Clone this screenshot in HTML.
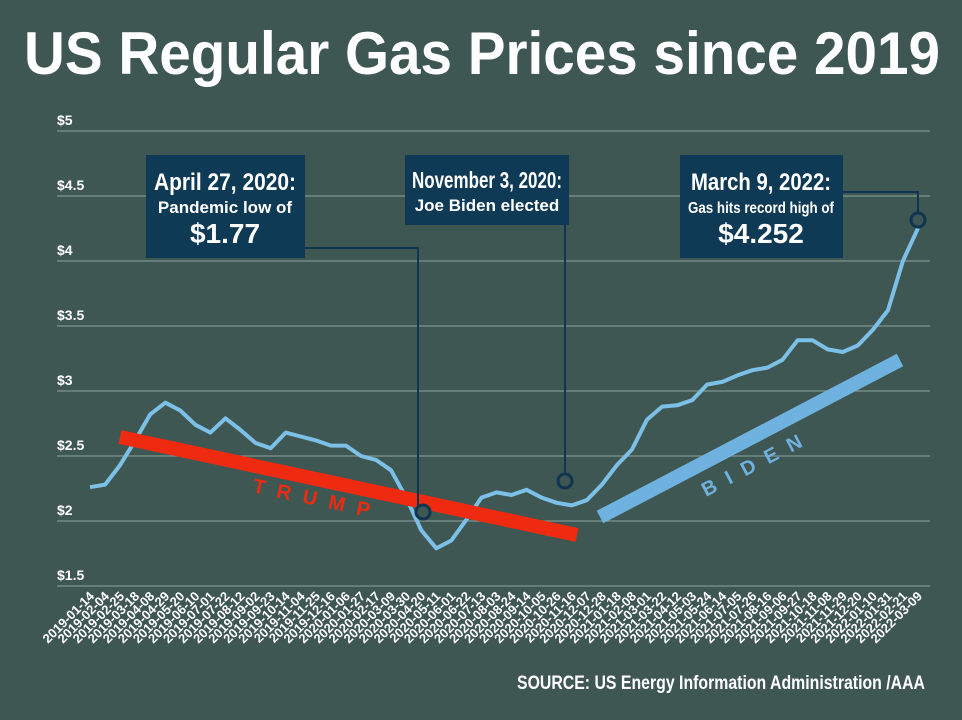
<!DOCTYPE html>
<html><head><meta charset="utf-8"><style>
html,body{margin:0;padding:0;background:#3f5752;}
svg{display:block;}
</style></head><body>
<svg id="chart" width="962" height="720" viewBox="0 0 962 720" xmlns="http://www.w3.org/2000/svg" font-family="Liberation Sans Narrow, Liberation Sans, sans-serif">
<rect width="962" height="720" fill="#3f5752"/>
<text x="24" y="74" font-size="60" font-weight="bold" fill="#fff" textLength="916" lengthAdjust="spacingAndGlyphs">US Regular Gas Prices since 2019</text>
<g id="grid"></g>
<g id="xlabels"></g>
<path id="series" fill="none" stroke="#7cc0e8" stroke-width="4" stroke-linejoin="round"/>
<line x1="120" y1="437" x2="577" y2="535" stroke="#ee2a10" stroke-width="14"/>
<text x="0" y="0" font-family="Liberation Sans, sans-serif" font-weight="bold" font-size="20" fill="#ee2a10" letter-spacing="12" transform="translate(252,492) rotate(12.1)">TRUMP</text>
<line x1="600" y1="517" x2="900" y2="360" stroke="#6fb2e0" stroke-width="14"/>
<text x="0" y="0" font-family="Liberation Sans, sans-serif" font-weight="bold" font-size="20" fill="#6fb2e0" letter-spacing="12" transform="translate(706,497) rotate(-27.6)">BIDEN</text>
<g fill="none" stroke="#0f3550" stroke-width="2">
<polyline points="300,248 418,248 418,512"/>
<polyline points="565,220 565,481"/>
<polyline points="840,192 918,192 918,220"/>
</g>
<g fill="#3f5752" stroke="#0f3550" stroke-width="3">
<circle cx="423" cy="512" r="7"/>
<circle cx="565" cy="481" r="7"/>
<circle cx="918" cy="220" r="7"/>
</g>
<g>
<rect x="146" y="155" width="159" height="103" fill="#0f3a56"/>
<text x="225" y="190" text-anchor="middle" fill="#fff" font-weight="bold" font-size="24" textLength="142" lengthAdjust="spacingAndGlyphs">April 27, 2020:</text>
<text x="225" y="213" text-anchor="middle" fill="#fff" font-weight="bold" font-size="17">Pandemic low of</text>
<text x="225" y="243" text-anchor="middle" fill="#fff" font-weight="bold" font-size="28">$1.77</text>
</g>
<g>
<rect x="405" y="155" width="164" height="70" fill="#0f3a56"/>
<text x="487" y="188" text-anchor="middle" fill="#fff" font-weight="bold" font-size="23" textLength="150" lengthAdjust="spacingAndGlyphs">November 3, 2020:</text>
<text x="487" y="211" text-anchor="middle" fill="#fff" font-weight="bold" font-size="17">Joe Biden elected</text>
</g>
<g>
<rect x="680" y="155" width="163" height="103" fill="#0f3a56"/>
<text x="761" y="190" text-anchor="middle" fill="#fff" font-weight="bold" font-size="24" textLength="140" lengthAdjust="spacingAndGlyphs">March 9, 2022:</text>
<text x="761" y="213" text-anchor="middle" fill="#fff" font-weight="bold" font-size="16" textLength="146" lengthAdjust="spacingAndGlyphs">Gas hits record high of</text>
<text x="761" y="243" text-anchor="middle" fill="#fff" font-weight="bold" font-size="28">$4.252</text>
</g>
<text x="925" y="689" text-anchor="end" fill="#fff" font-weight="bold" font-size="19" textLength="408" lengthAdjust="spacingAndGlyphs">SOURCE: US Energy Information Administration /AAA</text>
</svg>
<script>
const yTicks = [1.5, 2, 2.5, 3, 3.5, 4, 4.5, 5];
const yTickLabels = ["$1.5","$2","$2.5","$3","$3.5","$4","$4.5","$5"];
const prices = [2.26,2.28,2.43,2.62,2.82,2.91,2.85,2.74,2.68,2.79,2.70,2.60,2.56,2.68,2.65,2.62,2.58,2.58,2.50,2.47,2.39,2.18,1.93,1.79,1.85,2.01,2.18,2.22,2.20,2.24,2.18,2.14,2.12,2.16,2.28,2.43,2.55,2.78,2.88,2.89,2.93,3.05,3.07,3.12,3.16,3.18,3.24,3.39,3.39,3.32,3.30,3.35,3.47,3.62,4.0,4.252];
const NS = "http://www.w3.org/2000/svg";
function yScale(v){ return 131 + (5 - v) * 130; }
function xScale(i){ return 90 + i * (918 - 90) / (prices.length - 1); }
function fmt(d){ return d.toISOString().slice(0,10); }
const dates = [];
(function(){ const s = Date.UTC(2019,0,14); for (let i=0;i<prices.length;i++){ dates.push(fmt(new Date(s + i*21*86400000))); } dates[dates.length-1] = "2022-03-09"; })();
const grid = document.getElementById('grid');
yTicks.forEach((t,i)=>{
  const l = document.createElementNS(NS,'line');
  l.setAttribute('x1',57); l.setAttribute('x2',930);
  l.setAttribute('y1',yScale(t)); l.setAttribute('y2',yScale(t));
  l.setAttribute('stroke','#7f948f'); l.setAttribute('stroke-width','1.2');
  
  
  grid.appendChild(l);
  const tx = document.createElementNS(NS,'text');
  tx.setAttribute('x',57); tx.setAttribute('y',yScale(t)-6);
  tx.setAttribute('fill','#fff'); tx.setAttribute('font-size','14'); tx.setAttribute('font-weight','bold');
  tx.textContent = yTickLabels[i];
  
  
  grid.appendChild(tx);
});
const xl = document.getElementById('xlabels');
dates.forEach((d,i)=>{
  const tx = document.createElementNS(NS,'text');
  const x = xScale(i)+5, y = 597;
  tx.setAttribute('x',x); tx.setAttribute('y',y);
  tx.setAttribute('text-anchor','end');
  tx.setAttribute('transform','rotate(-45 '+x+' '+y+')');
  tx.setAttribute('fill','#fff'); tx.setAttribute('font-size','13'); tx.setAttribute('font-weight','bold');
  tx.textContent = d;
  
  
  xl.appendChild(tx);
});
let dstr = '';
prices.forEach((v,i)=>{ dstr += (i?'L':'M') + xScale(i).toFixed(1) + ',' + yScale(v).toFixed(1); });
document.getElementById('series').setAttribute('d', dstr);
</script>
</body></html>
